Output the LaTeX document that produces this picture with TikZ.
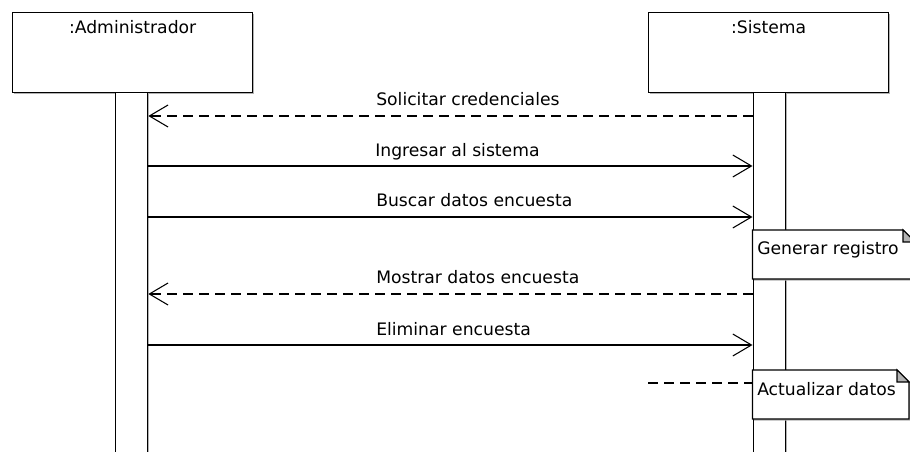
\documentclass[tikz,border=0pt]{standalone}
\usepackage{fontspec}
\setmainfont{DejaVu Sans}
\usetikzlibrary{arrows.meta, positioning, calc, shadows}

\begin{document}
\begin{tikzpicture}[x=0.75pt, y=-0.75pt,
    font=\fontsize{12.9}{15}\selectfont,
    sombra/.style={drop shadow={shadow xshift=1.2pt, shadow yshift=-1.2pt,
                   fill=black!30, opacity=1}},
    objeto/.style={draw, line width=1pt, fill=white, sombra, anchor=north west,
                   minimum width=180pt, minimum height=60pt, inner sep=0pt},
    barra/.style={draw, line width=1pt, fill=white, sombra, anchor=north west,
                  minimum width=24pt, minimum height=276pt, inner sep=0pt},
    llamada/.style={-{Straight Barb[length=14pt, width=16.5pt]}, line width=0.8pt},
    retorno/.style={llamada, dash pattern=on 7.5pt off 4.5pt},
    msj/.style={anchor=base west, inner sep=0pt},
    nota/.style={draw, line width=1pt, fill=white, sombra},
    doblez/.style={draw, line width=0.8pt, fill=black!30}
  ]
    \useasboundingbox (0,0) rectangle (910,452);
    \clip (0,0) rectangle (910,452);

    \node[objeto] (admin) at (12,12) {};
    \node[objeto] (sist) at (648,12) {};
    \node[anchor=base] (tadmin) at (admin.north |- 0,34) {:Administrador};
    \node[anchor=base] (tsist) at (sist.north |- 0,34) {:Sistema};

    \node[barra] (abar) at (115,92) {};
    \node[barra] (sbar) at (752.5,92) {};

    \coordinate (y1) at (0,116);
    \coordinate (y2) at (0,166);
    \coordinate (y3) at (0,217);
    \coordinate (y4) at (0,294);
    \coordinate (y5) at (0,345);
    \coordinate (suelto) at (648,383);

    \draw[retorno] (sbar.west |- y1) -- (abar.east |- y1);
    \node[msj] (m1) at (376,106) {Solicitar credenciales};
    \draw[llamada] (abar.east |- y2) -- (sbar.west |- y2);
    \node[msj] (m2) at (375,157) {Ingresar al sistema};
    \draw[llamada] (abar.east |- y3) -- (sbar.west |- y3);
    \node[msj] (m3) at (376,207) {Buscar datos encuesta};
    \draw[retorno] (sbar.west |- y4) -- (abar.east |- y4);
    \node[msj] (m4) at (376,284) {Mostrar datos encuesta};
    \draw[llamada] (abar.east |- y5) -- (sbar.west |- y5);
    \node[msj] (m5) at (376,335) {Eliminar encuesta};
    \draw[line width=0.8pt, dash pattern=on 7.5pt off 4.5pt] (suelto) -- (sbar.west |- suelto);

    % notas
    \path[nota] (752.5,230) -- (903,230) -- (915,242) -- (915,279) -- (752.5,279) -- cycle;
    \path[doblez] (903,230) -- (903,242) -- (915,242) -- cycle;
    \node[msj] (n1) at (757,255) {Generar registro};
    \path[nota] (752.5,370) -- (897,370) -- (909,382) -- (909,419) -- (752.5,419) -- cycle;
    \path[doblez] (897,370) -- (897,382) -- (909,382) -- cycle;
    \node[msj] (n2) at (757,395) {Actualizar datos};
  \end{tikzpicture}
\end{document}
